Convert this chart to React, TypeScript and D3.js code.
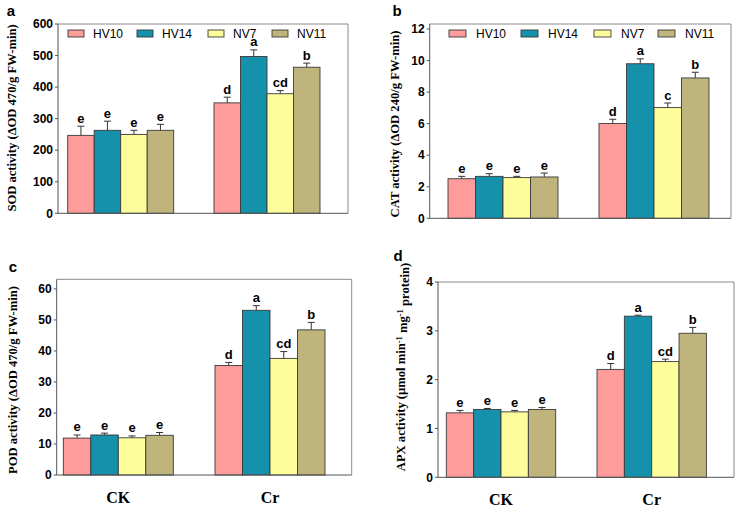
import React from "react";
import * as d3 from "d3";

const categories = ["CK", "Cr"];
const series = ["HV10", "HV14", "NV7", "NV11"];
const seriesColors = ["#fd9c9b", "#1591ab", "#fdfd9c", "#beb47c"];

const sodCK = [247, 263, 250, 263];
const sodCKErr = [29, 29, 13, 19];
const sodCr = [350, 497, 379, 463];
const sodCrErr = [18, 21, 10, 13];
const sodLetters = [["e", "e", "e", "e"], ["d", "a", "cd", "b"]];

const catCK = [2.51, 2.66, 2.58, 2.62];
const catCKErr = [0.15, 0.17, 0.08, 0.25];
const catCr = [6.01, 9.8, 7.02, 8.9];
const catCrErr = [0.27, 0.31, 0.29, 0.36];
const catLetters = [["e", "e", "e", "e"], ["d", "a", "c", "b"]];

const podCK = [11.9, 12.9, 12.0, 12.8];
const podCKErr = [1.0, 0.6, 0.6, 0.9];
const podCr = [35.3, 53.1, 37.6, 46.8];
const podCrErr = [1.0, 1.5, 2.2, 2.4];
const podLetters = [["e", "e", "e", "e"], ["d", "a", "cd", "b"]];

const apxCK = [1.32, 1.39, 1.34, 1.39];
const apxCKErr = [0.05, 0.02, 0.03, 0.04];
const apxCr = [2.21, 3.3, 2.37, 2.95];
const apxCrErr = [0.12, 0.02, 0.05, 0.12];
const apxLetters = [["e", "e", "e", "e"], ["d", "a", "cd", "b"]];

const sodTicks = [0, 100, 200, 300, 400, 500, 600];
const catTicks = [0, 2, 4, 6, 8, 10, 12];
const podTicks = [0, 10, 20, 30, 40, 50, 60];
const apxTicks = [0, 1, 2, 3, 4];

type PanelProps = {
  tag: string;
  tagX: number;
  tagY: number;
  left: number;
  right: number;
  top: number;
  bottom: number;
  yMax: number;
  ticks: number[];
  barStart: number;
  bandW: number;
  step: number;
  means: number[][];
  errs: number[][];
  letters: string[][];
  ylabel: React.ReactNode;
  ylabelX: number;
  ylabelY: number;
  legend?: { swatchX: number[]; textOff: number; y: number; sw: number };
  showCats?: boolean;
};

const sans = "Liberation Sans, Arial, sans-serif";
const serif = "Liberation Serif, Times New Roman, serif";

function Panel(p: PanelProps) {
  const y = d3.scaleLinear().domain([0, p.yMax]).range([p.bottom, p.top]);
  const pi = (p.step - p.bandW) / p.step;
  const x0 = d3
    .scaleBand<string>()
    .domain(categories)
    .range([p.barStart, p.barStart + p.step + p.bandW])
    .paddingInner(pi)
    .paddingOuter(0);
  const x1 = d3.scaleBand<string>().domain(series).range([0, x0.bandwidth()]).padding(0);
  const bw = x1.bandwidth();
  return (
    <g>
      <text x={p.tagX} y={p.tagY} fontFamily={sans} fontWeight="bold" fontSize={15} textAnchor="middle">
        {p.tag}
      </text>
      {/* frame */}
      <line x1={p.left} x2={p.right} y1={p.top} y2={p.top} stroke="#8a8a8a" strokeWidth={1} />
      <line x1={p.right} x2={p.right} y1={p.top} y2={p.bottom} stroke="#8a8a8a" strokeWidth={1} />
      {/* bars */}
      {categories.map((c, ci) =>
        series.map((s, si) => {
          const v = p.means[ci][si];
          const e = p.errs[ci][si];
          const bx = (x0(c) as number) + (x1(s) as number);
          const cx = bx + bw / 2;
          return (
            <g key={c + s}>
              <line x1={cx} x2={cx} y1={y(v)} y2={y(v + e)} stroke="#333" strokeWidth={1} />
              <line x1={cx - 3.5} x2={cx + 3.5} y1={y(v + e)} y2={y(v + e)} stroke="#333" strokeWidth={1} />
              <rect x={bx} y={y(v)} width={bw} height={p.bottom - y(v)} fill={seriesColors[si]} stroke="#3a3a3a" strokeWidth={0.9} />
              <text x={cx} y={y(v + e) - 3.5} fontFamily={sans} fontWeight="bold" fontSize={13} textAnchor="middle">
                {p.letters[ci][si]}
              </text>
            </g>
          );
        })
      )}
      {/* axes */}
      <line x1={p.left} x2={p.right} y1={p.bottom} y2={p.bottom} stroke="#555" strokeWidth={1} />
      <line x1={p.left} x2={p.left} y1={p.top} y2={p.bottom} stroke="#555" strokeWidth={1} />
      {p.ticks.map((t) => (
        <g key={t}>
          <line x1={p.left - 3} x2={p.left} y1={y(t)} y2={y(t)} stroke="#555" strokeWidth={1} />
          <text x={p.left - 5} y={y(t)} dy="0.35em" fontFamily={sans} fontWeight="bold" fontSize={12} textAnchor="end">
            {t}
          </text>
        </g>
      ))}
      {p.showCats &&
        categories.map((c) => (
          <text
            key={c}
            x={(x0(c) as number) + x0.bandwidth() / 2}
            y={p.bottom + 28}
            fontFamily={serif}
            fontWeight="bold"
            fontSize={16}
            textAnchor="middle"
          >
            {c}
          </text>
        ))}
      <text
        transform={`translate(${p.ylabelX},${p.ylabelY}) rotate(-90)`}
        fontFamily={serif}
        fontWeight="bold"
        fontSize={12.6}
        textAnchor="middle"
        dy="0.35em"
      >
        {p.ylabel}
      </text>
      {p.legend &&
        series.map((s, si) => (
          <g key={s}>
            <rect
              x={p.legend!.swatchX[si]}
              y={p.legend!.y - 3.5}
              width={p.legend!.sw}
              height={7}
              fill={seriesColors[si]}
              stroke="#3a3a3a"
              strokeWidth={0.9}
            />
            <text
              x={p.legend!.swatchX[si] + p.legend!.textOff}
              y={p.legend!.y}
              dy="0.35em"
              fontFamily={sans}
              fontSize={12}
            >
              {s}
            </text>
          </g>
        ))}
    </g>
  );
}

export default function App() {
  return (
    <svg width={738} height={507} style={{ position: "absolute", left: 0, top: 0, background: "#fff" }}>
      <Panel
        tag="a"
        tagX={11}
        tagY={16}
        left={58}
        right={348}
        top={24}
        bottom={213.3}
        yMax={600}
        ticks={sodTicks}
        barStart={67.7}
        bandW={106}
        step={146.3}
        means={[sodCK, sodCr]}
        errs={[sodCKErr, sodCrErr]}
        letters={sodLetters}
        ylabel="SOD activity (ΔOD 470/g FW-min)"
        ylabelX={12}
        ylabelY={118}
        legend={{ swatchX: [68, 137, 208, 272], textOff: 25, y: 33.5, sw: 16 }}
      />
      <Panel
        tag="b"
        tagX={397}
        tagY={16}
        left={429.7}
        right={731}
        top={24}
        bottom={218.3}
        yMax={12.32}
        ticks={catTicks}
        barStart={448}
        bandW={110}
        step={151}
        means={[catCK, catCr]}
        errs={[catCKErr, catCrErr]}
        letters={catLetters}
        ylabel="CAT activity (ΔOD 240/g FW-min)"
        ylabelX={395}
        ylabelY={124}
        legend={{ swatchX: [449, 521, 594, 658], textOff: 27, y: 33.5, sw: 17 }}
      />
      <Panel
        tag="c"
        tagX={13}
        tagY={272}
        left={56.7}
        right={351.7}
        top={279.3}
        bottom={475}
        yMax={63.1}
        ticks={podTicks}
        barStart={63.3}
        bandW={110}
        step={151.7}
        means={[podCK, podCr]}
        errs={[podCKErr, podCrErr]}
        letters={podLetters}
        ylabel="POD activity (ΔOD 470/g FW-min)"
        ylabelX={13}
        ylabelY={380}
        showCats
      />
      <Panel
        tag="d"
        tagX={398}
        tagY={261}
        left={438}
        right={734}
        top={282}
        bottom={477.3}
        yMax={4}
        ticks={apxTicks}
        barStart={446.3}
        bandW={109.4}
        step={150.7}
        means={[apxCK, apxCr]}
        errs={[apxCKErr, apxCrErr]}
        letters={apxLetters}
        ylabel={
          <>
            APX activity (µmol min
            <tspan dy="-0.45em" fontSize={8.5}>-1</tspan>
            <tspan dy="0.45em"> mg</tspan>
            <tspan dy="-0.45em" fontSize={8.5}>-1</tspan>
            <tspan dy="0.45em"> protein)</tspan>
          </>
        }
        ylabelX={401}
        ylabelY={367}
        showCats
      />
    </svg>
  );
}
